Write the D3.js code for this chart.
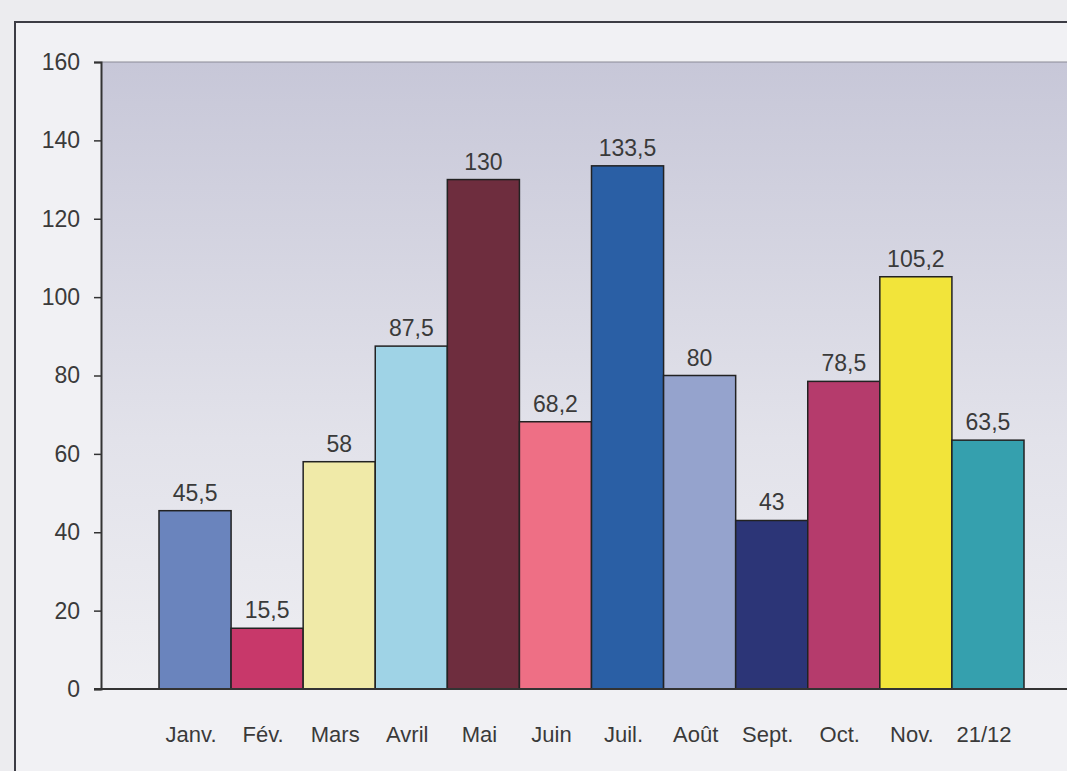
<!DOCTYPE html>
<html lang="fr">
<head>
<meta charset="UTF-8">
<title>Pluviométrie mensuelle</title>
<script src="https://d3js.org/d3.v7.min.js"></script>
<style>
    body { margin: 0; background: #ededf0; }
    svg { display: block; }
    .lbl { font-family: "Liberation Sans", Arial, sans-serif; fill: #3a3a3a; }
</style>
</head>
<body>
<div id="chart"></div>
<script>
// chart data
const months = ["Janv.", "Fév.", "Mars", "Avril", "Mai", "Juin", "Juil.", "Août", "Sept.", "Oct.", "Nov.", "21/12"];
const values = [45.5, 15.5, 58, 87.5, 130, 68.2, 133.5, 80, 43, 78.5, 105.2, 63.5];
const barColors = ["#6a84bd", "#c8386a", "#f0eaa8", "#9fd3e6", "#6e2d3e", "#ee6f85",
                   "#2a5fa5", "#95a3cd", "#2c3577", "#b53b6c", "#f2e43a", "#35a0ae"];
const yTicks = [0, 20, 40, 60, 80, 100, 120, 140, 160];

const width = 1067, height = 771;
const plot = { left: 101, top: 62, bottom: 689 };
const fontSize = 23;

const svg = d3.select("#chart").append("svg")
    .attr("width", width)
    .attr("height", height);

// page + frame
svg.append("rect").attr("width", width).attr("height", height).attr("fill", "#ececef");
svg.append("rect").attr("x", 15).attr("y", 22).attr("width", width).attr("height", height)
    .attr("fill", "#f1f1f4");
svg.append("path").attr("d", `M15,${height} V22 H${width}`)
    .attr("fill", "none").attr("stroke", "#3c3c44").attr("stroke-width", 2);

// plot background gradient
const grad = svg.append("defs").append("linearGradient")
    .attr("id", "bg").attr("x1", 0).attr("y1", 0).attr("x2", 0).attr("y2", 1);
grad.append("stop").attr("offset", "0%").attr("stop-color", "#c7c7d8");
grad.append("stop").attr("offset", "60%").attr("stop-color", "#e2e2ea");
grad.append("stop").attr("offset", "100%").attr("stop-color", "#eeeef2");

svg.append("rect")
    .attr("x", plot.left).attr("y", plot.top)
    .attr("width", width - plot.left).attr("height", plot.bottom - plot.top)
    .attr("fill", "url(#bg)");
svg.append("line")
    .attr("x1", plot.left).attr("x2", width).attr("y1", plot.top).attr("y2", plot.top)
    .attr("stroke", "#8a8a96").attr("stroke-width", 1);

const x = d3.scaleBand().domain(months).range([159, 1024]).paddingInner(0).paddingOuter(0);
const y = d3.scaleLinear().domain([0, 160]).range([plot.bottom, plot.top]);

// bars
svg.append("g").selectAll("rect")
    .data(values)
    .join("rect")
    .attr("x", (d, i) => x(months[i]))
    .attr("y", d => y(d))
    .attr("width", x.bandwidth())
    .attr("height", d => y(0) - y(d))
    .attr("fill", (d, i) => barColors[i])
    .attr("stroke", "#222")
    .attr("stroke-width", 1.5);

// value labels
svg.append("g").selectAll("text")
    .data(values)
    .join("text")
    .attr("class", "lbl")
    .attr("x", (d, i) => x(months[i]) + x.bandwidth() / 2)
    .attr("y", d => y(d) - 10)
    .attr("text-anchor", "middle")
    .attr("font-size", fontSize)
    .text(d => String(d).replace(".", ","));

// y axis
const yAxis = svg.append("g")
    .attr("transform", `translate(${plot.left},0)`)
    .call(d3.axisLeft(y).tickValues(yTicks).tickSize(7).tickPadding(14));
yAxis.select(".domain").attr("stroke", "#333").attr("stroke-width", 2);
yAxis.selectAll(".tick line").attr("stroke", "#333").attr("stroke-width", 1.5);
yAxis.selectAll(".tick text")
    .attr("class", "lbl")
    .attr("font-size", fontSize);

// baseline
svg.append("line")
    .attr("x1", plot.left - 7).attr("x2", width)
    .attr("y1", y(0)).attr("y2", y(0))
    .attr("stroke", "#333").attr("stroke-width", 2);

// x labels
svg.append("g").selectAll("text")
    .data(months)
    .join("text")
    .attr("class", "lbl")
    .attr("x", d => x(d) + x.bandwidth() / 2 - 4)
    .attr("y", 742)
    .attr("text-anchor", "middle")
    .attr("font-size", fontSize - 1)
    .text(d => d);
</script>
</body>
</html>
